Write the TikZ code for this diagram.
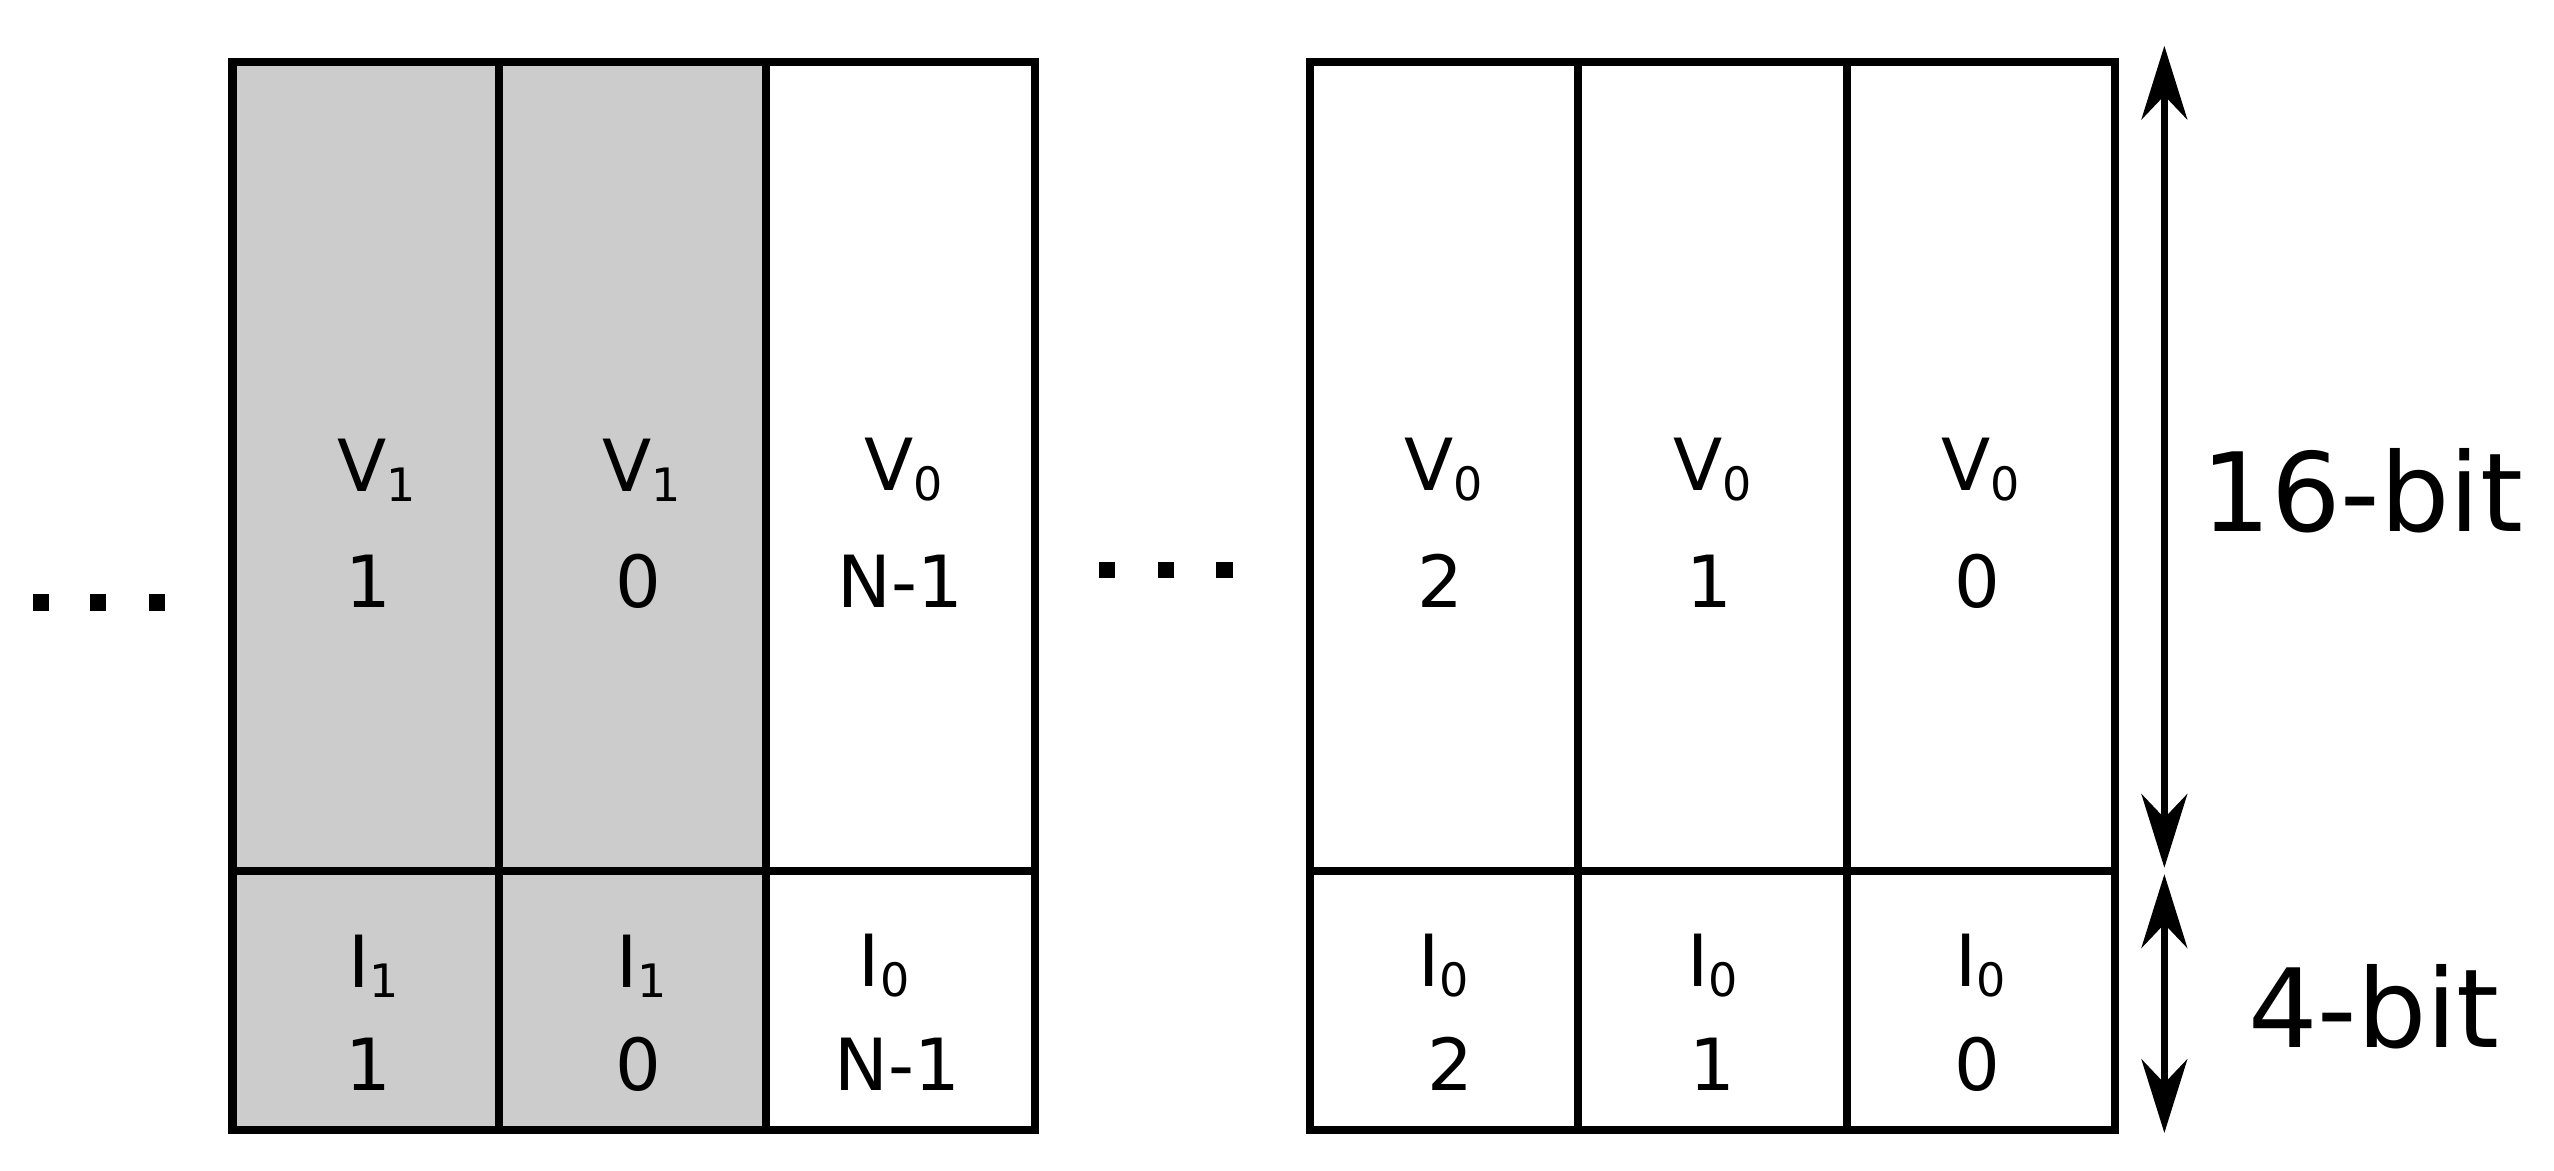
\documentclass[tikz,border=0pt]{standalone}
\usepackage{fontspec}
\setmainfont{DejaVu Sans}
\usetikzlibrary{arrows.meta}
\newcommand{\lbsub}[1]{\raisebox{-0.25ex}{\fontsize{80}{90}\selectfont #1}}
\begin{document}
\begin{tikzpicture}[x=1mm,y=-1mm,
  cell/.style={draw,line width=5mm},
  shaded/.style={cell,fill=black!20},
  lab/.style={font=\fontsize{125}{150}\selectfont,inner sep=0},
  big/.style={font=\fontsize{190}{220}\selectfont,inner sep=0},
  dimarrow/.style={line width=4mm,{Stealth[length=45mm,width=28mm]}-{Stealth[length=45mm,width=28mm]}},
  dot/.style={fill=black,minimum size=10mm,inner sep=0}]
\useasboundingbox (0,0) rectangle (1560,715);
% left block
\draw[shaded] (142,38) rectangle (305,532);
\draw[shaded] (305,38) rectangle (468,532);
\draw[cell] (468,38) rectangle (632,532);
\draw[shaded] (142,532) rectangle (305,690);
\draw[shaded] (305,532) rectangle (468,690);
\draw[cell] (468,532) rectangle (632,690);
% right block
\foreach \a/\b in {800/964,964/1128,1128/1292}{
  \draw[cell] (\a,38) rectangle (\b,532);
  \draw[cell] (\a,532) rectangle (\b,690);}
% labels
\node[lab] (v1a) at (230,287) {V\lbsub{1}};
\node[lab] (n1a) at (225,355) {1};
\node[lab] (v1b) at (392,287) {V\lbsub{1}};
\node[lab] (n1b) at (390,355) {0};
\node[lab] (v0c) at (552,287) {V\lbsub{0}};
\node[lab] (n0c) at (550,355) {N-1};
\node[lab] (v0d) at (882,287) {V\lbsub{0}};
\node[lab] (n0d) at (880,355) {2};
\node[lab] (v0e) at (1046,287) {V\lbsub{0}};
\node[lab] (n0e) at (1044,355) {1};
\node[lab] (v0f) at (1210,287) {V\lbsub{0}};
\node[lab] (n0f) at (1208,355) {0};
\node[lab] (i1a) at (228,590) {I\lbsub{1}};
\node[lab] (m1a) at (225,650) {1};
\node[lab] (i1b) at (392,590) {I\lbsub{1}};
\node[lab] (m1b) at (390,650) {0};
\node[lab] (i0c) at (540,590) {I\lbsub{0}};
\node[lab] (m0c) at (548,650) {N-1};
\node[lab] (i0d) at (882,590) {I\lbsub{0}};
\node[lab] (m0d) at (886,650) {2};
\node[lab] (i0e) at (1046,590) {I\lbsub{0}};
\node[lab] (m0e) at (1046,650) {1};
\node[lab] (i0f) at (1210,590) {I\lbsub{0}};
\node[lab] (m0f) at (1208,650) {0};
% dots
\foreach \x [count=\i] in {25,60,96}{\node[dot] (dl\i) at (\x,368) {};}
\foreach \x [count=\i] in {676,712,748}{\node[dot] (dm\i) at (\x,348) {};}
% dimension arrows
\coordinate (a1) at (1322,28);
\coordinate (a2) at (1322,530);
\coordinate (a3) at (1322,534);
\coordinate (a4) at (1322,692);
\draw[dimarrow] (a1) -- (a2);
\draw[dimarrow] (a3) -- (a4);
\node[big] (b16) at (1443,300) {16-bit};
\node[big] (b4) at (1450,615) {4-bit};
\end{tikzpicture}
\end{document}
